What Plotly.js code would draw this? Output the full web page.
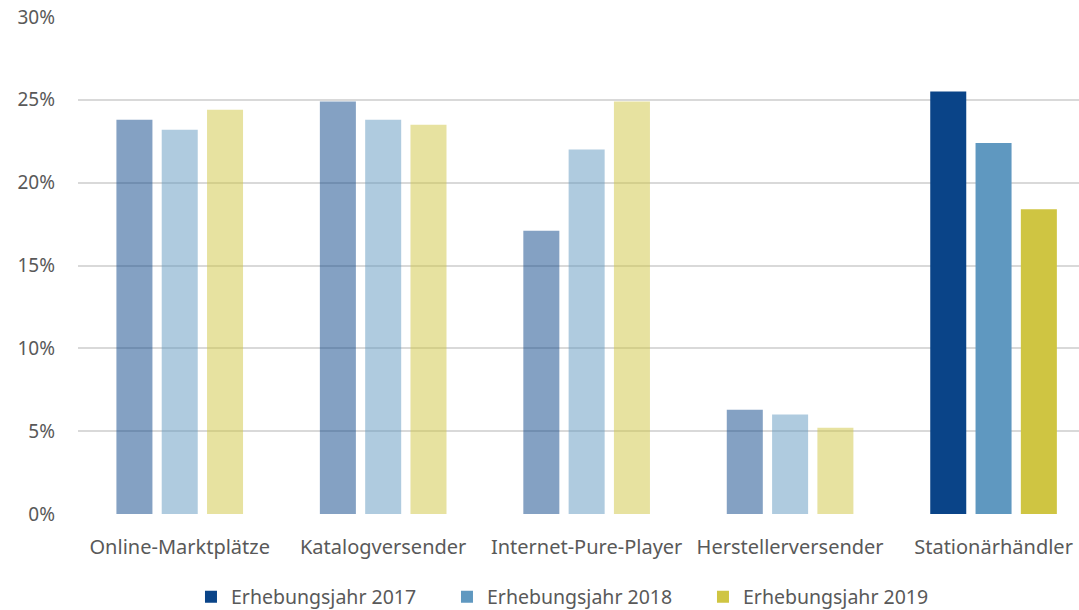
<!DOCTYPE html>
<html>
<head>
<meta charset="utf-8">
<script src="https://cdn.plot.ly/plotly-3.0.1.min.js"></script>
<style>html,body{margin:0;padding:0;background:#fff}#chart{width:1079px;height:610px}</style>
</head>
<body>
<div id="chart"></div>
<script>
const categories = ["Online-Marktplätze", "Katalogversender", "Internet-Pure-Player", "Herstellerversender", "Stationärhändler"];
const seriesNames = ["Erhebungsjahr 2017", "Erhebungsjahr 2018", "Erhebungsjahr 2019"];
const values2017 = [23.8, 24.9, 17.1, 6.3, 25.5];
const values2018 = [23.2, 23.8, 22.0, 6.0, 22.4];
const values2019 = [24.4, 23.5, 24.9, 5.2, 18.4];
const fullColors = ["#0A4488", "#5F98C0", "#CFC542"];
const fadedColors = ["rgba(10,68,136,0.5)", "rgba(95,152,192,0.5)", "rgba(207,197,66,0.5)"];
const yTickVals = [0, 5, 10, 15, 20, 25, 30];
const yTickText = ["0%", "5%", "10%", "15%", "20%", "25%", "30%"];

const allValues = [values2017, values2018, values2019];
const highlightIndex = 4;
const traces = [];
allValues.forEach((vals, i) => {
  const fx = [], fy = [];
  categories.forEach((c, j) => { if (j !== highlightIndex) { fx.push(c); fy.push(vals[j]); } });
  traces.push({
    type: 'bar', x: fx, y: fy, name: seriesNames[i], offsetgroup: String(i),
    marker: {color: fadedColors[i]}, showlegend: false
  });
});
allValues.forEach((vals, i) => {
  traces.push({
    type: 'bar', x: [categories[highlightIndex]], y: [vals[highlightIndex]], name: seriesNames[i],
    offsetgroup: String(i), marker: {color: fullColors[i]}, showlegend: true
  });
});

const xFont = {family: 'Noto Sans, sans-serif', size: 20, color: '#595959'};
const yFont = {family: 'Noto Sans, sans-serif', size: 19, color: '#595959'};
const legendFont = {family: 'Noto Sans, sans-serif', size: 19.5, color: '#595959'};
const layout = {
  width: 1079, height: 610,
  margin: {l: 78, r: 0, t: 17, b: 96},
  paper_bgcolor: '#fff', plot_bgcolor: '#fff',
  font: xFont,
  barmode: 'group', bargap: 0.332, bargroupgap: 0.205,
  xaxis: {
    type: 'category', categoryorder: 'array', categoryarray: categories,
    range: [-0.5, 4.42], automargin: false,
    showgrid: false, zeroline: false, showline: false,
    ticks: '', ticklabelstandoff: 19, tickfont: xFont
  },
  yaxis: {
    range: [0, 30], tickvals: yTickVals, ticktext: yTickText, automargin: false,
    showgrid: true, gridcolor: '#D9D9D9', gridwidth: 2, zeroline: false, showline: false,
    ticks: '', ticklabelstandoff: 22, tickfont: yFont
  },
  legend: {
    orientation: 'h', x: 0.177, xref: 'container', xanchor: 'left',
    y: 0.021, yref: 'container', yanchor: 'middle',
    font: legendFont, traceorder: 'normal', entrywidth: 211, itemwidth: 30,
    tracegroupgap: 0, valign: 'middle'
  },
  showlegend: true
};
Plotly.newPlot('chart', traces, layout, {displayModeBar: false, staticPlot: true});
</script>
</body>
</html>
